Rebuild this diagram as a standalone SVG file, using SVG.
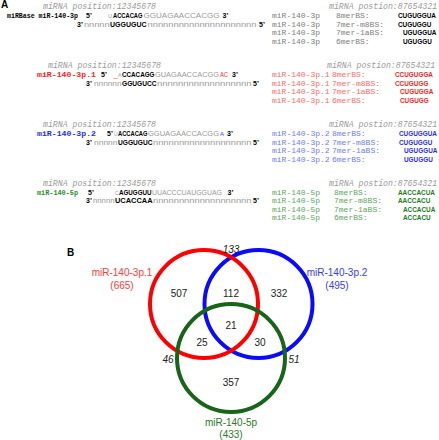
<svg xmlns="http://www.w3.org/2000/svg" width="439" height="440" viewBox="0 0 439 440">
<style>
text{font-family:"Liberation Sans",Arial,sans-serif}
.pl{font-family:"Liberation Sans",Arial,sans-serif;font-weight:bold;font-size:10px;fill:#000}
.hdr{font-family:"Liberation Mono","Courier New",monospace;font-style:italic;font-size:8.2px;fill:#9a9a9a}
.lab{font-family:"Liberation Mono","Courier New",monospace;font-weight:bold;font-size:7.5px}
.end{font-weight:bold;font-size:7px;fill:#000}
.g{font-size:8px;fill:#9a9a9a}
.g1{font-size:6px;fill:#9a9a9a}
.s{font-weight:bold;font-size:6.4px;fill:#000}
.row{font-family:"Liberation Mono","Courier New",monospace;font-size:8px}
.seq{font-weight:bold;font-size:6.4px}
.v{font-size:10px;text-anchor:middle;fill:#222}
.vi{font-style:italic}
.c{fill:none;stroke-width:4}
.r{fill:#ff3030}
.b{fill:#3a3aff}
</style>
<rect width="439" height="440" fill="#fff"/>
<text class="pl" x="1" y="8">A</text>

<g id="block-mirbase">
<text class="hdr" x="43" y="9">miRNA position:12345678</text>
<text y="18"><tspan class="lab" x="7" fill="#000" style="font-size:6.9px" textLength="71" lengthAdjust="spacingAndGlyphs">miRBase miR-140-3p</tspan><tspan class="end" x="86">5’</tspan><tspan class="g1" x="108" textLength="4" lengthAdjust="spacingAndGlyphs">U</tspan><tspan class="s" x="113" textLength="29.5" lengthAdjust="spacingAndGlyphs">ACCACAG</tspan><tspan class="g" x="143.5" textLength="76" lengthAdjust="spacingAndGlyphs">GGUAGAACCACGG</tspan><tspan class="end" x="222.5">3’</tspan></text>
<text y="26.5"><tspan class="end" x="77">3’</tspan><tspan class="g" x="84" textLength="25.5" lengthAdjust="spacingAndGlyphs">nnnnn</tspan><tspan class="s" x="110" textLength="36.5" lengthAdjust="spacingAndGlyphs">UGGUGUC</tspan><tspan class="g" x="147.5" textLength="109" lengthAdjust="spacingAndGlyphs">nnnnnnnnnnnnnnnnnnnnn</tspan><tspan class="end" x="259">5’</tspan></text>
<text class="hdr" x="329" y="9">miRNA postion:87654321</text>
<g fill="#808080">
<text class="row" x="272" y="18">miR-140-3p</text><text class="row" x="336" y="18">8merBS:</text>
<text class="row" x="272" y="26.5">miR-140-3p</text><text class="row" x="336" y="26.5">7mer-m8BS:</text>
<text class="row" x="272" y="35">miR-140-3p</text><text class="row" x="336" y="35">7mer-1aBS:</text>
<text class="row" x="272" y="43.5">miR-140-3p</text><text class="row" x="336" y="43.5">6merBS:</text>
</g>
<g fill="#000">
<text class="seq" x="398" y="18">CUGUGGUA</text>
<text class="seq" x="398" y="26.5">CUGUGGU</text>
<text class="seq" x="403" y="35">UGUGGUA</text>
<text class="seq" x="403" y="43.5">UGUGGU</text>
</g>
</g>

<g id="block-3p1">
<text class="hdr" x="48" y="68">miRNA position:12345678</text>
<text y="77"><tspan class="lab" x="37" fill="#ff1a1a" textLength="59" lengthAdjust="spacingAndGlyphs">miR-140-3p.1</tspan><tspan class="end" x="101">5’</tspan><tspan class="g r" x="113.5" textLength="4" lengthAdjust="spacingAndGlyphs">_</tspan><tspan class="g1" x="118" textLength="3.6" lengthAdjust="spacingAndGlyphs">A</tspan><tspan class="s" x="122" textLength="32.5" lengthAdjust="spacingAndGlyphs">CCACAGG</tspan><tspan class="g" x="155" style="font-size:7.3px" textLength="64" lengthAdjust="spacingAndGlyphs">GUAGAACCACGG</tspan><tspan class="g r" x="220" textLength="8" lengthAdjust="spacingAndGlyphs">AC</tspan><tspan class="end" x="232">3’</tspan></text>
<text y="85.5"><tspan class="end" x="86">3’</tspan><tspan class="g" x="94" textLength="27.5" lengthAdjust="spacingAndGlyphs">nnnnnn</tspan><tspan class="s" x="122" textLength="34.5" lengthAdjust="spacingAndGlyphs">GGUGUCC</tspan><tspan class="g" x="157" textLength="94.5" lengthAdjust="spacingAndGlyphs">nnnnnnnnnnnnnnnnnn</tspan><tspan class="end" x="253">5’</tspan></text>
<text class="hdr" x="327" y="68">miRNA postion:87654321</text>
<g fill="#ff6a6a">
<text class="row" x="272" y="77">miR-140-3p.1</text><text class="row" x="332" y="77">8merBS:</text>
<text class="row" x="272" y="85.5">miR-140-3p.1</text><text class="row" x="332" y="85.5">7mer-m8BS:</text>
<text class="row" x="272" y="94">miR-140-3p.1</text><text class="row" x="332" y="94">7mer-1aBS:</text>
<text class="row" x="272" y="102.5">miR-140-3p.1</text><text class="row" x="332" y="102.5">6merBS:</text>
</g>
<g fill="#ff1a1a">
<text class="seq" x="395" y="77">CCUGUGGA</text>
<text class="seq" x="395" y="85.5">CCUGUGG</text>
<text class="seq" x="400" y="94">CUGUGGA</text>
<text class="seq" x="400" y="102.5">CUGUGG</text>
</g>
</g>

<g id="block-3p2">
<text class="hdr" x="43" y="127">miRNA position:12345678</text>
<text y="136"><tspan class="lab" x="37" fill="#2a2aff" textLength="59" lengthAdjust="spacingAndGlyphs">miR-140-3p.2</tspan><tspan class="end" x="107">5’</tspan><tspan class="g1" x="114" textLength="3.6" lengthAdjust="spacingAndGlyphs">U</tspan><tspan class="s" x="118" textLength="29.5" lengthAdjust="spacingAndGlyphs">ACCACAG</tspan><tspan class="g" x="148" style="font-size:7.5px" textLength="71" lengthAdjust="spacingAndGlyphs">GGUAGAACCACGG</tspan><tspan class="g b" x="220" style="font-size:6px" textLength="4" lengthAdjust="spacingAndGlyphs">A</tspan><tspan class="end" x="227">3’</tspan></text>
<text y="144.5"><tspan class="end" x="86">3’</tspan><tspan class="g" x="94" textLength="23.5" lengthAdjust="spacingAndGlyphs">nnnnn</tspan><tspan class="s" x="118" textLength="34.5" lengthAdjust="spacingAndGlyphs">UGGUGUC</tspan><tspan class="g" x="153" textLength="98.5" lengthAdjust="spacingAndGlyphs">nnnnnnnnnnnnnnnnnnn</tspan><tspan class="end" x="253">5’</tspan></text>
<text class="hdr" x="329" y="127">miRNA postion:87654321</text>
<g fill="#6f7cff">
<text class="row" x="272" y="136">miR-140-3p.2</text><text class="row" x="332" y="136">8merBS:</text>
<text class="row" x="272" y="144.5">miR-140-3p.2</text><text class="row" x="332" y="144.5">7mer-m8BS:</text>
<text class="row" x="272" y="153">miR-140-3p.2</text><text class="row" x="332" y="153">7mer-1aBS:</text>
<text class="row" x="272" y="161.5">miR-140-3p.2</text><text class="row" x="332" y="161.5">6merBS:</text>
</g>
<g fill="#2a2aff">
<text class="seq" x="399" y="136">CUGUGGUA</text>
<text class="seq" x="399" y="144.5">CUGUGGU</text>
<text class="seq" x="404" y="153">UGUGGUA</text>
<text class="seq" x="404" y="161.5">UGUGGU</text>
</g>
</g>

<g id="block-5p">
<text class="hdr" x="43" y="185.5">miRNA position:12345678</text>
<text y="194.5"><tspan class="lab" x="37" fill="#2e8b2e" textLength="41" lengthAdjust="spacingAndGlyphs">miR-140-5p</tspan><tspan class="end" x="88">5’</tspan><tspan class="g1" x="115" textLength="3.6" lengthAdjust="spacingAndGlyphs">C</tspan><tspan class="s" x="119" textLength="32.5" lengthAdjust="spacingAndGlyphs">AGUGGUU</tspan><tspan class="g" x="152" style="font-size:6.9px" textLength="70" lengthAdjust="spacingAndGlyphs">UUACCCUAUGGUAG</tspan><tspan class="end" x="227.5">3’</tspan></text>
<text y="203"><tspan class="end" x="86">3’</tspan><tspan class="g" x="93" textLength="21.5" lengthAdjust="spacingAndGlyphs">nnnnn</tspan><tspan class="s" x="115" textLength="37.5" lengthAdjust="spacingAndGlyphs">UCACCAA</tspan><tspan class="g" x="153" textLength="98.5" lengthAdjust="spacingAndGlyphs">nnnnnnnnnnnnnnnnnnn</tspan><tspan class="end" x="253">5’</tspan></text>
<text class="hdr" x="329" y="185.5">miRNA postion:87654321</text>
<g fill="#5fa55f">
<text class="row" x="272" y="194.5">miR-140-5p</text><text class="row" x="334" y="194.5">8merBS:</text>
<text class="row" x="272" y="203">miR-140-5p</text><text class="row" x="334" y="203">7mer-m8BS:</text>
<text class="row" x="272" y="211.5">miR-140-5p</text><text class="row" x="334" y="211.5">7mer-1aBS:</text>
<text class="row" x="272" y="220">miR-140-5p</text><text class="row" x="334" y="220">6merBS:</text>
</g>
<g fill="#1e7a1e">
<text class="seq" x="398" y="194.5">AACCACUA</text>
<text class="seq" x="398" y="203">AACCACU</text>
<text class="seq" x="403" y="211.5">ACCACUA</text>
<text class="seq" x="403" y="220">ACCACU</text>
</g>
</g>

<text class="pl" x="67" y="256">B</text>
<g id="venn-3p2">
<circle class="c" cx="258.5" cy="304" r="54" stroke="#0a0aff"/>
<text class="v" x="337" y="275.5" style="fill:#3a3aff">miR-140-3p.2</text>
<text class="v" x="337" y="288.5" style="fill:#3a3aff">(495)</text>
</g>
<g id="venn-3p1">
<circle class="c" cx="204" cy="304" r="54" stroke="#ff0000"/>
<text class="v" x="122" y="275.5" style="fill:#ff3a3a">miR-140-3p.1</text>
<text class="v" x="122" y="288.5" style="fill:#ff3a3a">(665)</text>
</g>
<g id="venn-5p">
<circle class="c" cx="231" cy="358" r="54" stroke="#186418"/>
<text class="v" x="231" y="425.5" style="fill:#2a7a2a">miR-140-5p</text>
<text class="v" x="231" y="437.5" style="fill:#2a7a2a">(433)</text>
</g>
<g id="venn-counts">
<text class="v" x="179" y="296.5">507</text>
<text class="v" x="231" y="296.5">112</text>
<text class="v" x="279" y="296.5">332</text>
<text class="v" x="231" y="328.5">21</text>
<text class="v" x="202" y="345.5">25</text>
<text class="v" x="260" y="345.5">30</text>
<text class="v" x="231" y="385.5">357</text>
<text class="v vi" x="231" y="252.5">133</text>
<text class="v vi" x="168" y="362.5">46</text>
<text class="v vi" x="294" y="362.5">51</text>
</g>
</svg>
